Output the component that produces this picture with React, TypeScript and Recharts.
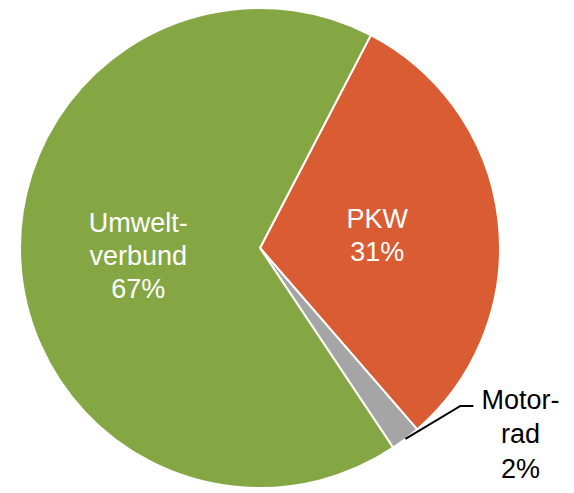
import { PieChart, Pie, Cell } from "recharts";

const categories = ["PKW", "Motorrad", "Umweltverbund"];
const shares = [31, 2, 67];
const labelLines = [["PKW"], ["Motor-", "rad"], ["Umwelt-", "verbund"]];
const colors = ["#DA5C33", "#A5A5A5", "#84A744"];

const data = categories.map((name, i) => ({ name, value: shares[i] }));

const RAD = Math.PI / 180;
const FONT = "'Liberation Sans', Arial, sans-serif";

const renderLabel = (props: any) => {
  const { cx, cy, midAngle, outerRadius, index, value } = props;
  const lines = [...labelLines[index], `${value}%`];
  const lh = 33;

  if (index === 1) {
    // small slice: label outside with a leader line
    const sx = cx + outerRadius * Math.cos(-midAngle * RAD);
    const sy = cy + outerRadius * Math.sin(-midAngle * RAD);
    const mx = sx + 55;
    const my = sy - 33;
    const ex = mx + 13;
    return (
      <g>
        <polyline
          points={`${sx},${sy} ${mx},${my} ${ex},${my}`}
          fill="none"
          stroke="#000"
          strokeWidth={2}
        />
        <text
          x={ex + 47}
          y={my + 3}
          textAnchor="middle"
          fill="#000"
          fontSize={27}
          fontFamily={FONT}
        >
          {lines.map((l, i) => (
            <tspan key={i} x={ex + 47} dy={i === 0 ? 0 : 34.5}>
              {l}
            </tspan>
          ))}
        </text>
      </g>
    );
  }

  const r = outerRadius * 0.5;
  const x = cx + r * Math.cos(-midAngle * RAD) - 2;
  const y = cy + r * Math.sin(-midAngle * RAD);
  const startY = y - ((lines.length - 1) * lh) / 2 + 11;
  return (
    <text
      x={x}
      y={startY}
      textAnchor="middle"
      fill="#fff"
      fontSize={27}
      fontFamily={FONT}
    >
      {lines.map((l, i) => (
        <tspan key={i} x={x} dy={i === 0 ? 0 : lh}>
          {l}
        </tspan>
      ))}
    </text>
  );
};

export default function App() {
  return (
    <div style={{ position: "absolute", left: 0, top: 0, width: 574, height: 493, background: "#fff" }}>
      <PieChart width={574} height={493} margin={{ top: 0, right: 0, bottom: 0, left: 0 }}>
        <Pie
          data={data}
          dataKey="value"
          nameKey="name"
          cx={260}
          cy={248}
          outerRadius={240}
          startAngle={62.5}
          endAngle={-297.5}
          stroke="#fff"
          strokeWidth={2}
          label={renderLabel}
          labelLine={false}
          isAnimationActive={false}
        >
          {data.map((d, i) => (
            <Cell key={d.name} fill={colors[i]} />
          ))}
        </Pie>
      </PieChart>
    </div>
  );
}
